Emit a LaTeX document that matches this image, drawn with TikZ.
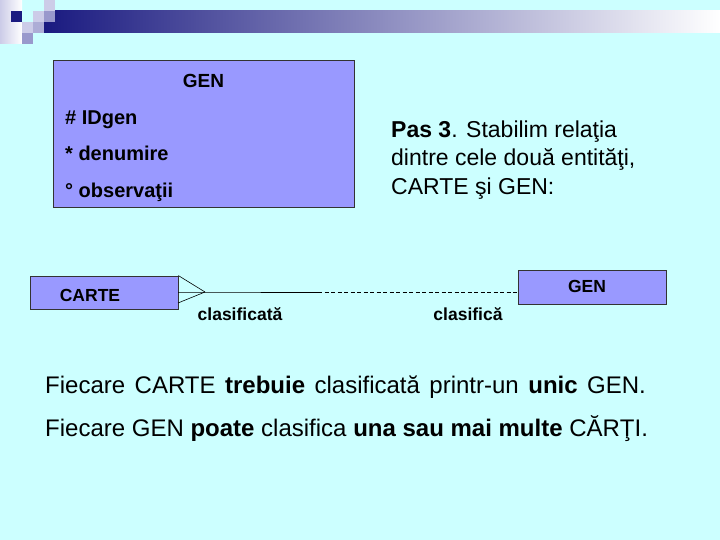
\documentclass[tikz,border=0pt]{standalone}
\usepackage{fontspec}
\setmainfont{Liberation Sans}
\usetikzlibrary{calc}
\definecolor{bg}{HTML}{CCFFFF}
\definecolor{boxfill}{HTML}{9999FF}
\definecolor{navy}{HTML}{1A1A80}
\definecolor{lav}{HTML}{9999CC}
\definecolor{lavl}{HTML}{CCCCE8}
\definecolor{edge}{HTML}{333333}
\begin{document}
\begin{tikzpicture}[x=1pt,y=-1pt,
  entity/.style={draw=edge, fill=boxfill, line width=0.8pt, inner sep=0pt},
  attr/.style={anchor=base west, inner sep=0pt, font=\fontsize{20}{22}\selectfont\bfseries},
  lbl/.style={anchor=base, inner sep=0pt, font=\fontsize{17.5}{20}\selectfont\bfseries},
  body/.style={anchor=base west, inner sep=0pt, font=\fontsize{24}{28}\selectfont},
  conn/.style={draw=black, line width=0.6pt}]
\fill[bg] (0,0) rectangle (720,540);
\useasboundingbox (0,0) rectangle (720,540);
% header decoration
\shade[left color=navy, right color=white] (44,11) rectangle (720,33);
\shade[left color=lavl, right color=white] (0,0) rectangle (22,44);
\fill[navy] (11,11) rectangle (22,22);
\fill[lavl] (22,22) rectangle (33,33);
\fill[lav] (22,33) rectangle (33,44);
\fill[lavl] (33,11) rectangle (44,22);
\fill[lav!80!white] (33,22) rectangle (44,33);
\fill[lavl] (44,0) rectangle (55,11);
\fill[lav] (44,11) rectangle (55,22);
% big entity
\node[entity, minimum width=301pt, minimum height=147pt] (genbig) at (203.5,133.5) {};
\node[lbl, font=\fontsize{19}{21}\selectfont\bfseries] (gentitle) at (203.5,88) {GEN};
\node[attr] (a1) at (65,125) {\# IDgen};
\node[attr] (a2) at (65,161) {* denumire};
\node[attr] (a3) at (65,197) {° observaţii};
% step text
\node[body, font=\fontsize{23}{27}\selectfont] (p1) at (391,138) {\textbf{Pas 3}. Stabilim relaţia};
\node[body, font=\fontsize{23}{27}\selectfont] (p2) at (391,166) {dintre cele două entităţi,};
\node[body, font=\fontsize{23}{27}\selectfont] (p3) at (391,195) {CARTE şi GEN:};
% relationship
\node[entity, minimum width=148pt, minimum height=33pt] (carte) at (104,292.5) {};
\node[lbl] (cartet) at (90,301.5) {CARTE};
\node[entity, minimum width=148pt, minimum height=34pt] (gen) at (592,287) {};
\node[lbl] (gent) at (587,292) {GEN};
\coordinate (foot) at (205,292);
\coordinate (mid) at (318,292);
\draw[conn] (carte.north east) -- (foot);
\draw[conn] (178,303) -- (foot);
\draw[conn] (carte.east |- foot) -- (foot) -- (mid);
\draw[conn, dashed, dash pattern=on 4pt off 2.5pt] (mid) -- (gen.west |- foot);
\node[lbl] (l1) at (240,320) {clasificată};
\node[lbl] (l2) at (468,320) {clasifică};
% sentences
\node[body] (s1) at (45,393) {\spaceskip=9.5pt Fiecare CARTE \textbf{trebuie} clasificată printr-un \textbf{unic} GEN.};
\node[body] (s2) at (45,436) {Fiecare GEN \textbf{poate} clasifica \textbf{una sau mai multe} CĂRŢI.};
\end{tikzpicture}
\end{document}
